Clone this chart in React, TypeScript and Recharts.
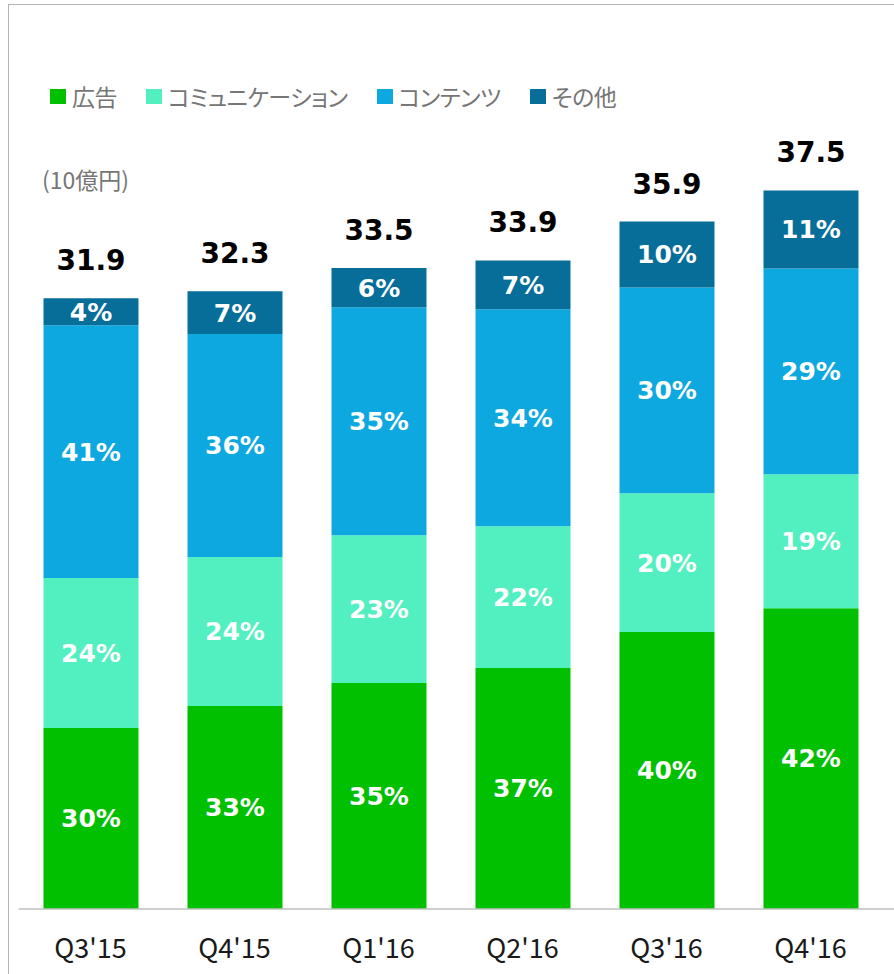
import React from 'react';
import { BarChart, Bar, XAxis, YAxis, LabelList, Legend } from 'recharts';

const categories = ["Q3'15", "Q4'15", "Q1'16", "Q2'16", "Q3'16", "Q4'16"];
const totals = [31.9, 32.3, 33.5, 33.9, 35.9, 37.5];
const adValues = [9.45, 10.6, 11.8, 12.58, 14.46, 15.71];
const commValues = [7.83, 7.78, 7.72, 7.41, 7.25, 6.99];
const contentValues = [13.2, 11.64, 11.9, 11.33, 10.75, 10.75];
const otherValues = [1.41, 2.24, 2.05, 2.55, 3.44, 4.07];
const adPct = [30, 33, 35, 37, 40, 42];
const commPct = [24, 24, 23, 22, 20, 19];
const contentPct = [41, 36, 35, 34, 30, 29];
const otherPct = [4, 7, 6, 7, 10, 11];

const seriesNames = ['広告', 'コミュニケーション', 'コンテンツ', 'その他'];
const colors = ['#00C000', '#52F0C0', '#0EA8E0', '#066E98'];
const unitLabel = '(10億円)';

const data = categories.map((c, i) => ({
  name: c,
  total: totals[i],
  ad: adValues[i],
  comm: commValues[i],
  content: contentValues[i],
  other: otherValues[i],
  adPct: adPct[i],
  commPct: commPct[i],
  contentPct: contentPct[i],
  otherPct: otherPct[i],
}));

const jpFont = '"Noto Sans CJK JP", "Noto Sans", sans-serif';
const boldFont = '"DejaVu Sans", Verdana, sans-serif';

const pctLabelStyle = {
  fill: '#ffffff',
  fontFamily: boldFont,
  fontWeight: 700,
  fontSize: 25,
};

const renderLegend = (props: any) => {
  const payload = [...(props.payload || [])].sort(
    (a: any, b: any) => seriesNames.indexOf(a.value) - seriesNames.indexOf(b.value)
  );
  return (
    <div style={{ display: 'flex', alignItems: 'center', fontFamily: jpFont, fontSize: 23, letterSpacing: -0.5, color: '#767676', fontFeatureSettings: '"palt"', whiteSpace: 'nowrap' }}>
      {payload.map((entry: any, i: number) => (
        <div key={i} style={{ display: 'flex', alignItems: 'center', marginRight: 29 }}>
          <span style={{ display: 'inline-block', width: 16, height: 15, background: entry.color, marginRight: 6 }} />
          <span>{entry.value}</span>
        </div>
      ))}
    </div>
  );
};

export default function App() {
  return (
    <div style={{ position: 'absolute', left: 0, top: 0, width: 894, height: 974, background: '#fff' }}>
      <div style={{ position: 'absolute', left: 8, top: 4, width: 886, height: 970, borderTop: '1px solid #B4B4B4', borderLeft: '1px solid #B4B4B4', boxSizing: 'border-box' }} />
      <div style={{ position: 'absolute', left: 42, top: 162, fontFamily: jpFont, fontSize: 23, color: '#767676' }}>{unitLabel}</div>
      <BarChart width={894} height={974} data={data} margin={{ top: 143, right: 0, left: 18.5, bottom: 5 }} barSize={95}>
        <XAxis
          dataKey="name"
          height={60}
          axisLine={{ stroke: '#BFBFBF', strokeWidth: 1.5 }}
          tickLine={false}
          tickMargin={24}
          padding={{ left: 0, right: 11.5 }}
          tick={{ fill: '#1a1a1a', fontFamily: jpFont, fontSize: 27 }}
          interval={0}
        />
        <YAxis hide domain={[0, 40]} />
        <Legend
          verticalAlign="middle"
          align="center"
          content={renderLegend}
          wrapperStyle={{ top: 79, left: 50, width: 'auto' }}
        />
        <Bar dataKey="ad" name={seriesNames[0]} stackId="a" fill={colors[0]} isAnimationActive={false}>
          <LabelList dataKey="adPct" position="center" formatter={(v: any) => `${v}%`} style={pctLabelStyle} />
        </Bar>
        <Bar dataKey="comm" name={seriesNames[1]} stackId="a" fill={colors[1]} isAnimationActive={false}>
          <LabelList dataKey="commPct" position="center" formatter={(v: any) => `${v}%`} style={pctLabelStyle} />
        </Bar>
        <Bar dataKey="content" name={seriesNames[2]} stackId="a" fill={colors[2]} isAnimationActive={false}>
          <LabelList dataKey="contentPct" position="center" formatter={(v: any) => `${v}%`} style={pctLabelStyle} />
        </Bar>
        <Bar dataKey="other" name={seriesNames[3]} stackId="a" fill={colors[3]} isAnimationActive={false}>
          <LabelList dataKey="otherPct" position="center" formatter={(v: any) => `${v}%`} style={pctLabelStyle} />
          <LabelList
            dataKey="total"
            position="top"
            offset={28}
            formatter={(v: any) => Number(v).toFixed(1)}
            style={{ fill: '#000000', fontFamily: boldFont, fontWeight: 700, fontSize: 28 }}
          />
        </Bar>
      </BarChart>
    </div>
  );
}
